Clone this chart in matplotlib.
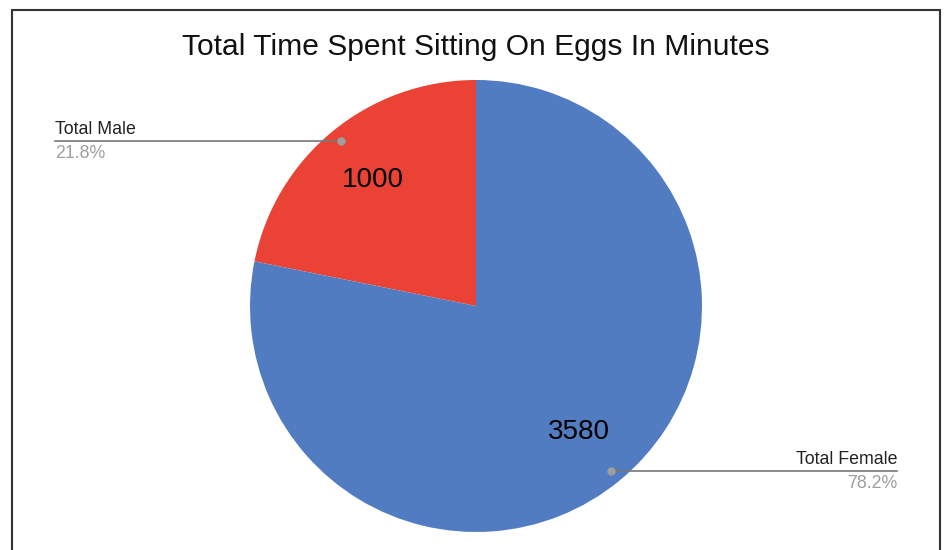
import matplotlib
matplotlib.use("Agg")
import matplotlib.pyplot as plt
from matplotlib.patches import Rectangle
import numpy as np

# data
labels = ["Total Male", "Total Female"]
values = [1000, 3580]
colors = ["#EA4335", "#527CC1"]
title = "Total Time Spent Sitting On Eggs In Minutes"

plt.rcParams['font.family'] = ['Liberation Sans', 'DejaVu Sans']

W, H = 945, 550
fig = plt.figure(figsize=(W / 100, H / 100), dpi=100)
ax = fig.add_axes([0, 0, 1, 1])

cx, cy, r = 476, H - 306, 226  # pie centre / radius in pixel units

wedges, texts, autotexts = ax.pie(values, colors=colors, startangle=90, counterclock=True,
                                  center=(cx, cy), radius=r,
                                  autopct=lambda p: "%d" % round(p * sum(values) / 100),
                                  pctdistance=0.72,
                                  textprops=dict(fontsize=20, color="black"))
ax.set_xlim(0, W)
ax.set_ylim(0, H)
ax.set_aspect('equal')
ax.axis('off')

total = float(sum(values))
# leader lines: male goes to the left, female to the right
line_ends = [55, 897]
for w, lab, v, xend in zip(wedges, labels, values, line_ends):
    mid = np.deg2rad((w.theta1 + w.theta2) / 2)
    px = cx + 0.945 * r * np.cos(mid)
    py = cy + 0.945 * r * np.sin(mid)
    ax.plot([px, xend], [py, py], color="#777777", lw=1.2, zorder=3)
    ax.plot(px, py, 'o', color="#9e9e9e", ms=5, zorder=4)
    ha = 'left' if xend < px else 'right'
    ax.text(xend, py + 3, lab, ha=ha, va='bottom', fontsize=12.8, color="#222222")
    ax.text(xend, py - 4, "%.1f%%" % (100 * v / total), ha=ha, va='top', fontsize=12.8,
            color="#9e9e9e")

fig.text(476 / W, 1 - 47 / H, title, ha='center', va='center', fontsize=21.6, color="#111111")

# frame around the chart (bottom edge is cut off)
fig.patches.append(Rectangle((12.5 / W, -0.1), (940 - 12.5) / W, 1.1 - 9.5 / H,
                             transform=fig.transFigure, fill=False, ec="#333333", lw=1.5))

fig.savefig("out.png", dpi=100)
